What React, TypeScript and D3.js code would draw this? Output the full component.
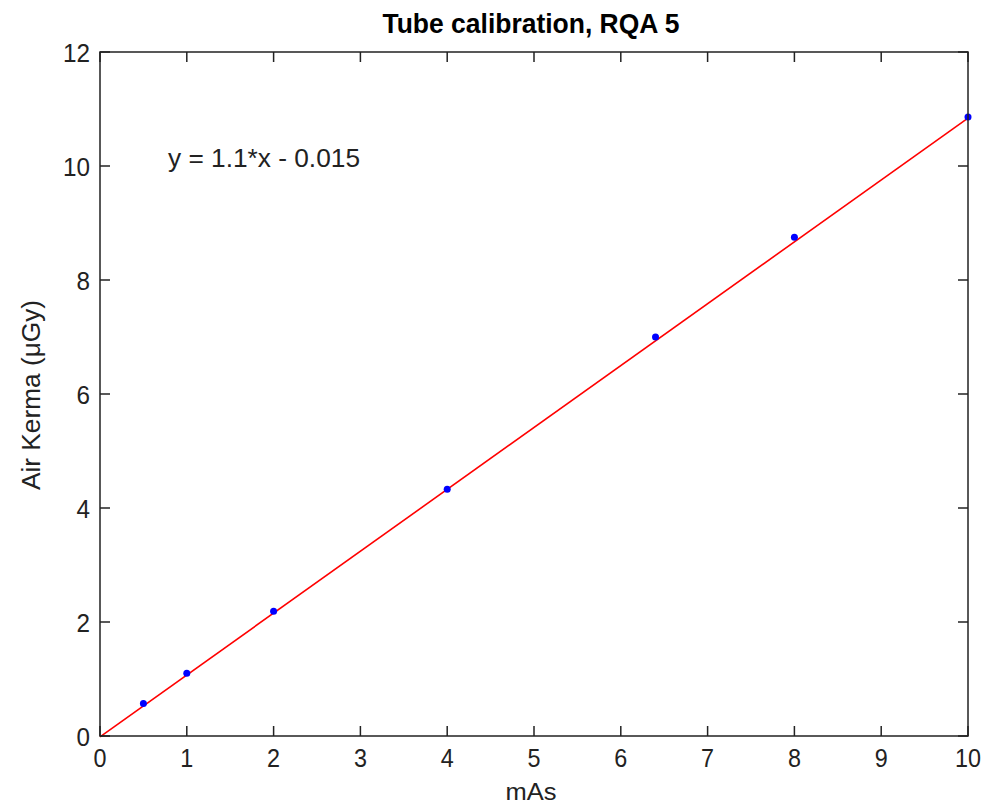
import React from "react";
import * as d3 from "d3";

const mAs = [0.5, 1, 2, 4, 6.4, 8, 10];
const kerma = [0.57, 1.1, 2.19, 4.33, 7.0, 8.75, 10.86];
const fitX = [0, 10];
const fitY = [-0.015, 10.84];
const xTicks = [0, 1, 2, 3, 4, 5, 6, 7, 8, 9, 10];
const yTicks = [0, 2, 4, 6, 8, 10, 12];
const title = "Tube calibration, RQA 5";
const xLabel = "mAs";
const yLabel = "Air Kerma (\u03bcGy)";
const eqText = "y = 1.1*x - 0.015";

const W = 986;
const H = 806;
const L = 100, R = 968, T = 52, B = 736;
const FONT = "'Liberation Sans', Arial, sans-serif";

export default function App() {
  const x = d3.scaleLinear().domain([0, 10]).range([L, R]);
  const y = d3.scaleLinear().domain([0, 12]).range([B, T]);
  const line = d3.line<number>().x((_, i) => x(fitX[i])).y((d) => y(d));
  const tickLen = 10;
  const axisColor = "#222";
  return (
    <svg width={W} height={H} style={{ position: "absolute", left: 0, top: 0, background: "#fff" }}>
      <rect x={0} y={0} width={W} height={H} fill="#fff" />
      <text x={531} y={33} textAnchor="middle" fontFamily={FONT} fontWeight="bold" fontSize={28}
        textLength={297} lengthAdjust="spacingAndGlyphs" fill="#000">{title}</text>
      {/* fit line */}
      <path d={line(fitY) || ""} fill="none" stroke="#ff0000" strokeWidth={1.6} />
      {/* points */}
      {mAs.map((m, i) => (
        <circle key={i} cx={x(m)} cy={y(kerma[i])} r={3.5} fill="#0000ff" />
      ))}
      {/* box */}
      <rect x={L} y={T} width={R - L} height={B - T} fill="none" stroke={axisColor} strokeWidth={1.5} />
      {xTicks.map((t) => (
        <g key={"x" + t}>
          <line x1={x(t)} x2={x(t)} y1={B} y2={B - tickLen} stroke={axisColor} strokeWidth={1.5} />
          <line x1={x(t)} x2={x(t)} y1={T} y2={T + tickLen} stroke={axisColor} strokeWidth={1.5} />
          <text x={x(t)} y={767} textAnchor="middle" fontFamily={FONT} fontSize={26}
            textLength={13 * String(t).length} lengthAdjust="spacingAndGlyphs" fill="#222">{t}</text>
        </g>
      ))}
      {yTicks.map((t) => (
        <g key={"y" + t}>
          <line x1={L} x2={L + tickLen} y1={y(t)} y2={y(t)} stroke={axisColor} strokeWidth={1.5} />
          <line x1={R} x2={R - tickLen} y1={y(t)} y2={y(t)} stroke={axisColor} strokeWidth={1.5} />
          <text x={90} y={y(t) + 9.5} textAnchor="end" fontFamily={FONT} fontSize={26}
            textLength={13.5 * String(t).length} lengthAdjust="spacingAndGlyphs" fill="#222">{t}</text>
        </g>
      ))}
      <text x={168} y={167} fontFamily={FONT} fontSize={25} textLength={192}
        lengthAdjust="spacingAndGlyphs" fill="#222">{eqText}</text>
      <text x={531} y={800} textAnchor="middle" fontFamily={FONT} fontSize={23}
        textLength={51} lengthAdjust="spacingAndGlyphs" fill="#222">{xLabel}</text>
      <text transform={`translate(40,395) rotate(-90)`} textAnchor="middle" fontFamily={FONT} fontSize={26}
        textLength={190} lengthAdjust="spacingAndGlyphs" fill="#222">{yLabel}</text>
    </svg>
  );
}
